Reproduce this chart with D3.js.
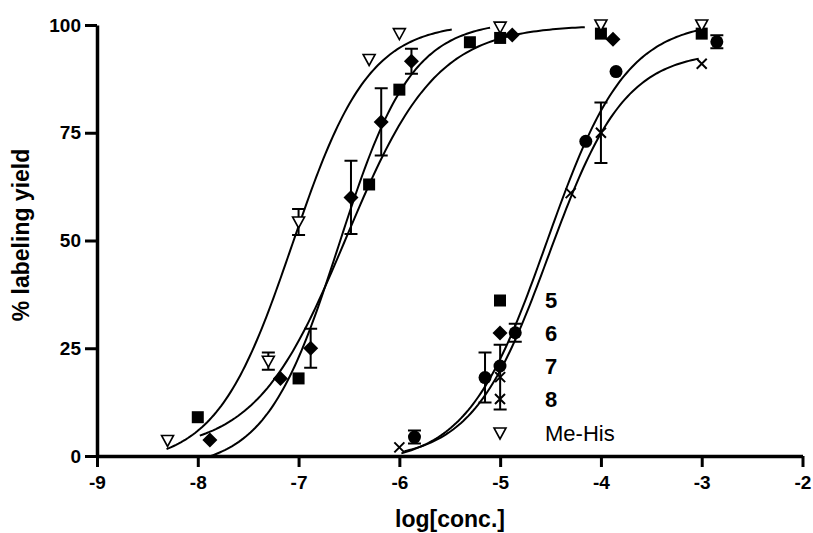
<!DOCTYPE html>
<html>
<head>
<meta charset="utf-8">
<script src="https://cdn.jsdelivr.net/npm/d3@7"></script>
<style>
body { margin: 0; background: #fff; }
text { font-family: Arial, "Liberation Sans", sans-serif; }
</style>
</head>
<body>
<script>
var w = 813;
var h = 533;

var xTicks = [-9, -8, -7, -6, -5, -4, -3, -2];
var yTicks = [0, 25, 50, 75, 100];

// compound 5 (squares)
var x5 = [-8, -7, -6.3, -6, -5.3, -5, -4, -3];
var y5 = [9, 18, 63, 85, 96, 97, 98, 98];
var e5 = [0, 0, 0, 0, 0, 0, 0, 0];

// compound 6 (diamonds)
var x6 = [-7.88, -7.18, -6.88, -6.48, -6.18, -5.88, -4.88, -3.88];
var y6 = [3.7, 18, 25, 60, 77.5, 91.6, 97.7, 96.7];
var e6 = [0, 0, 4.5, 8.5, 7.8, 2.9, 0, 0];

// compound 7 (circles)
var x7 = [-5.85, -5.15, -4.85, -4.15, -3.85, -2.85];
var y7 = [4.4, 18.2, 28.6, 73, 89.2, 96.1];
var e7 = [1.5, 5.8, 2.1, 0, 0, 1.5];

// compound 8 (crosses)
var x8 = [-6, -5, -4.3, -4, -3];
var y8 = [2, 18.3, 61, 75, 91];
var e8 = [0, 7.5, 0, 7, 0];

// Me-His (open triangles)
var xMe = [-8.3, -7.3, -7, -6.3, -6, -5, -4, -3];
var yMe = [3.6, 22, 54.3, 92, 98, 99.5, 100, 100];
var eMe = [0, 2, 3, 0, 0, 0, 0, 0];

var seriesNames = ["5", "6", "7", "8", "Me-His"];
var seriesShapes = ["square", "diamond", "circle", "cross", "triangle"];

// sigmoidal fits
var fitBottom = [1, -3, -2, -1, -2];
var fitTop = [100, 101, 101, 94, 100.5];
var fitEC50 = [-6.53, -6.6, -4.54, -4.52, -7.06];
var fitHill = [0.97, 1.2, 1.1, 1.15, 1.15];
var fitFrom = [-7.98, -7.87, -5.98, -5.95, -8.31];
var fitTo = [-4.16, -5.1, -3.03, -3.03, -5.48];

var allX = [x5, x6, x7, x8, xMe];
var allY = [y5, y6, y7, y8, yMe];
var allE = [e5, e6, e7, e8, eMe];

var svg = d3.select("body").append("svg")
    .attr("width", w)
    .attr("height", h);

var x = d3.scaleLinear().domain([-9, -2]).range([97, 802.5]);
var y = d3.scaleLinear().domain([0, 100]).range([456, 25]);

// curves
var line = d3.line()
    .x(function(d) { return x(d[0]); })
    .y(function(d) { return y(d[1]); });

for (var i = 0; i < seriesNames.length; i++) {
    var pts = [];
    var n = 120;
    for (var k = 0; k <= n; k++) {
        var xv = fitFrom[i] + (fitTo[i] - fitFrom[i]) * k / n;
        var yv = fitBottom[i] + (fitTop[i] - fitBottom[i]) / (1 + Math.pow(10, (fitEC50[i] - xv) * fitHill[i]));
        pts.push([xv, yv]);
    }
    svg.append("path")
        .attr("d", line(pts))
        .attr("fill", "none")
        .attr("stroke", "#000")
        .attr("stroke-width", 2);
}

// axes
var yAxis = svg.append("g")
    .attr("transform", "translate(" + x(-9) + ",0)")
    .call(d3.axisLeft(y).tickValues(yTicks).tickSize(12).tickSizeOuter(0).tickPadding(4)
        .tickFormat(function(d) { return String(d); }));
var xAxis = svg.append("g")
    .attr("transform", "translate(0," + y(0) + ")")
    .call(d3.axisBottom(x).tickValues(xTicks).tickSize(11).tickSizeOuter(0).tickPadding(9)
        .tickFormat(function(d) { return String(d); }));

[yAxis, xAxis].forEach(function(a) {
    a.select(".domain").attr("stroke-width", 3.5);
    a.selectAll(".tick line").attr("stroke-width", 3);
    a.selectAll(".tick text")
        .attr("font-size", 19)
        .attr("font-weight", "bold")
        .attr("font-family", "Arial, 'Liberation Sans', sans-serif")
        .attr("fill", "#000");
});

svg.append("text")
    .attr("x", 450)
    .attr("y", 527)
    .attr("text-anchor", "middle")
    .attr("font-size", 23)
    .attr("font-weight", "bold")
    .text("log[conc.]");

svg.append("text")
    .attr("transform", "translate(29,235) rotate(-90)")
    .attr("text-anchor", "middle")
    .attr("font-size", 23)
    .attr("font-weight", "bold")
    .text("% labeling yield");

function drawSymbol(g, shape, cx, cy) {
    if (shape == "square") {
        g.append("rect").attr("x", cx - 6).attr("y", cy - 6)
            .attr("width", 12).attr("height", 12).attr("fill", "#000");
    } else if (shape == "diamond") {
        g.append("path")
            .attr("d", "M" + cx + "," + (cy - 7.5) + "L" + (cx + 7.5) + "," + cy + "L" + cx + "," + (cy + 7.5) + "L" + (cx - 7.5) + "," + cy + "Z")
            .attr("fill", "#000");
    } else if (shape == "circle") {
        g.append("circle").attr("cx", cx).attr("cy", cy).attr("r", 6.5).attr("fill", "#000");
    } else if (shape == "cross") {
        g.append("path")
            .attr("d", "M" + (cx - 5) + "," + (cy - 5) + "L" + (cx + 5) + "," + (cy + 5) + "M" + (cx + 5) + "," + (cy - 5) + "L" + (cx - 5) + "," + (cy + 5))
            .attr("stroke", "#000").attr("stroke-width", 2).attr("fill", "none");
    } else {
        g.append("path")
            .attr("d", "M" + (cx - 6) + "," + (cy - 5) + "L" + (cx + 6) + "," + (cy - 5) + "L" + cx + "," + (cy + 6) + "Z")
            .attr("fill", "#fff").attr("stroke", "#000").attr("stroke-width", 1.6);
    }
}

// error bars then points
var marks = svg.append("g");
for (var i = 0; i < seriesNames.length; i++) {
    var xs = allX[i], ys = allY[i], es = allE[i];
    for (var j = 0; j < xs.length; j++) {
        if (es[j] > 0) {
            var px = x(xs[j]);
            var yHi = y(ys[j] + es[j]), yLo = y(ys[j] - es[j]);
            marks.append("path")
                .attr("d", "M" + px + "," + yHi + "V" + yLo + "M" + (px - 6.5) + "," + yHi + "H" + (px + 6.5) + "M" + (px - 6.5) + "," + yLo + "H" + (px + 6.5))
                .attr("stroke", "#000").attr("stroke-width", 2).attr("fill", "none");
        }
    }
}
for (var i = 0; i < seriesNames.length; i++) {
    for (var j = 0; j < allX[i].length; j++) {
        drawSymbol(marks, seriesShapes[i], x(allX[i][j]), y(allY[i][j]));
    }
}

// legend
var legend = svg.append("g");
var legendY = [300.5, 333, 366, 399, 433];
for (var i = 0; i < seriesNames.length; i++) {
    drawSymbol(legend, seriesShapes[i], 500, legendY[i]);
    legend.append("text")
        .attr("x", 545)
        .attr("y", legendY[i])
        .attr("dy", "0.36em")
        .attr("font-size", 22)
        .attr("font-weight", i < 4 ? "bold" : "normal")
        .text(seriesNames[i]);
}
</script>
</body>
</html>
